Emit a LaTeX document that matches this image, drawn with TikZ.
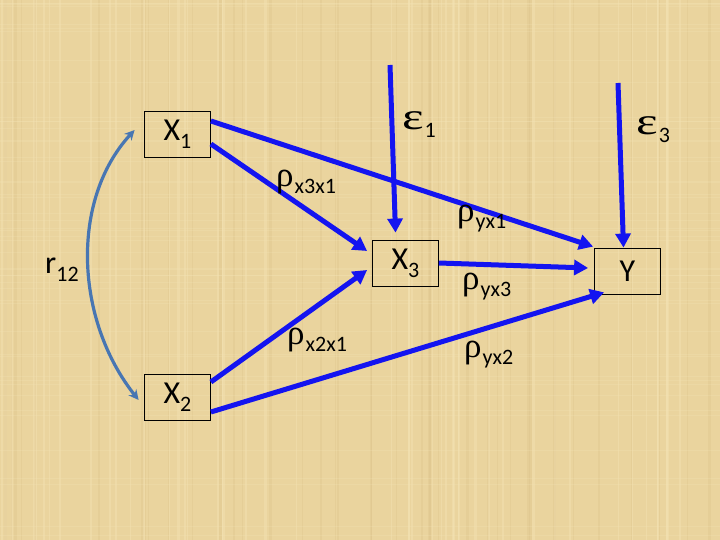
\documentclass[tikz,border=0pt]{standalone}
\usepackage{fontspec}
\usepackage{graphicx}
\setmainfont{Carlito}
\newfontfamily\grk{Liberation Serif}
\usetikzlibrary{arrows.meta,calc}
\definecolor{parch}{RGB}{234,212,158}
\definecolor{parchlight}{RGB}{244,228,182}
\definecolor{parchdark}{RGB}{216,190,132}
\definecolor{pathblue}{RGB}{20,20,240}
\definecolor{corrblue}{RGB}{72,118,178}
\newcommand{\bsub}[1]{\raisebox{-8pt}{\fontsize{22}{22}\selectfont #1}}
\newcommand{\rholab}[1]{{\grk\fontsize{35}{35}\selectfont ρ}\kern1pt\raisebox{-7pt}{\fontsize{22}{22}\selectfont #1}}
\newcommand{\epslab}[1]{{\grk\fontsize{38}{38}\selectfont\scalebox{1.35}[1]{ε}}\kern1pt\raisebox{-8pt}{\fontsize{22}{22}\selectfont #1}}
\begin{document}
\begin{tikzpicture}[x=1pt,y=-1pt,
  varbox/.style={draw=black,line width=0.8pt,minimum width=66pt,minimum height=46pt,inner sep=0pt,font=\fontsize{32}{32}\selectfont},
  pathar/.style={draw=pathblue,line width=5pt,-{Triangle[length=14pt,width=15pt]}},
  corrar/.style={draw=corrblue,line width=3.2pt,{Stealth[length=10pt,width=10pt]}-{Stealth[length=10pt,width=10pt]}},
  lab/.style={anchor=base west,inner sep=0pt}]
\useasboundingbox (0,0) rectangle (720,540);
\fill[parch] (0,0) rectangle (720,540);
\pgfmathsetseed{11}
\foreach \i in {1,...,90}{
  \pgfmathsetmacro{\xx}{rnd*720}
  \pgfmathsetmacro{\ww}{0.5+rnd*2.5}
  \pgfmathtruncatemacro{\cc}{rnd<0.5 ? 1 : 0}
  \ifnum\cc=1
    \fill[parchlight,opacity=0.4] (\xx,0) rectangle ++(\ww,540);
  \else
    \fill[parchdark,opacity=0.25] (\xx,0) rectangle ++(\ww,540);
  \fi
}
\foreach \i in {1,...,50}{
  \pgfmathsetmacro{\yy}{rnd*540}
  \fill[parchlight,opacity=0.25] (0,\yy) rectangle ++(720,1);
}
% boxes
\node[varbox] (X1) at (177.5,134) {X\bsub{1}};
\node[varbox] (X2) at (177.5,397) {X\bsub{2}};
\node[varbox] (X3) at (405.5,263) {X\bsub{3}};
\node[varbox] (Y) at (627.5,271) {Y};
% error sources
\coordinate (e1s) at (390,65);
\coordinate (e3s) at (618,83);
% arrows
\draw[pathar] ($(X1.east)+(0,-13)$) -- ($(Y.north west)+(-1,-1)$);
\draw[pathar] ($(X1.east)+(0,10)$) -- ($(X3.west)+(-5,-12)$);
\draw[pathar] ($(X2.east)+(0,-15)$) -- ($(X3.west)+(-5,7)$);
\draw[pathar] ($(X2.east)+(0,15)$) -- ($(Y.south west)+(10,-2)$);
\draw[pathar] (X3.east) -- ($(Y.west)+(-6,-3)$);
\draw[pathar] (e1s) -- ($(X3.north)+(-10,-7)$);
\draw[pathar] (e3s) -- ($(Y.north)+(-4,0)$);
\draw[corrar] ($(X1.west)+(-9.5,-4)$) .. controls (70,200) and (75,320) .. ($(X2.west)+(-5.5,3)$);
% labels
\node[lab] (e1) at (402,130) {\epslab{1}};
\node[lab] (e3) at (636,135) {\epslab{3}};
\node[lab] (r12) at (45,273) {\fontsize{32}{32}\selectfont r\bsub{12}};
\node[lab] (px3x1) at (276,187) {\rholab{x3x1}};
\node[lab] (pyx1) at (457,222) {\rholab{yx1}};
\node[lab] (pyx3) at (462,289) {\rholab{yx3}};
\node[lab] (pyx2) at (464,357) {\rholab{yx2}};
\node[lab] (px2x1) at (287,344) {\rholab{x2x1}};
\end{tikzpicture}
\end{document}
